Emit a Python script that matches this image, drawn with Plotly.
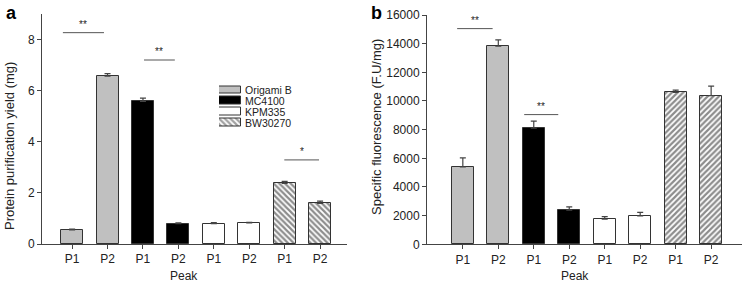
import plotly.graph_objects as go

peaks = ["P1", "P2", "P1", "P2", "P1", "P2", "P1", "P2"]
strains = ["Origami B", "MC4100", "KPM335", "BW30270"]

yield_vals = [0.55, 6.57, 5.58, 0.80, 0.80, 0.83, 2.37, 1.59]
yield_err = [0.03, 0.10, 0.13, 0.03, 0.04, 0.02, 0.08, 0.09]

fluor_vals = [5400, 13820, 8100, 2380, 1760, 1980, 10600, 10380]
fluor_err = [630, 440, 490, 230, 170, 250, 160, 660]

fill_colors = ["#c0c0c0", "#000000", "#ffffff", "#ffffff"]
patterns_a = ["", "", "", "\\"]
patterns_b = ["", "", "", "/"]

TXT = "#222222"
FONT = "Liberation Sans, Arial"

W, H = 748, 285


def px(X):
    return X / W


def py(Y):
    return (H - Y) / H


fig = go.Figure()

for i, s in enumerate(strains):
    xs = [2 * i, 2 * i + 1]
    for panel in ("a", "b"):
        vals = yield_vals if panel == "a" else fluor_vals
        errs = yield_err if panel == "a" else fluor_err
        pat = patterns_a[i] if panel == "a" else patterns_b[i]
        fig.add_trace(go.Bar(
            x=xs, y=vals[2 * i:2 * i + 2],
            width=0.62,
            name=s,
            showlegend=False,
            marker=dict(color=fill_colors[i],
                        line=dict(color="#333333", width=1),
                        pattern=dict(shape=pat, fgcolor="#1a1a1a", bgcolor="#ffffff",
                                     size=4, solidity=0.55) if pat else None),
            error_y=dict(type="data", array=errs[2 * i:2 * i + 2], arrayminus=[0, 0],
                         symmetric=False, color="#444444", thickness=1.2, width=3),
            xaxis="x" if panel == "a" else "x2",
            yaxis="y" if panel == "a" else "y2",
        ))

# compact legend drawn as a small horizontal bar chart of swatches
legend_rows = list(range(len(strains)))
fig.add_trace(go.Bar(
    x=[1] * len(strains), y=legend_rows, orientation="h", width=0.72,
    showlegend=False, hoverinfo="skip",
    marker=dict(color=fill_colors, line=dict(color="#333333", width=1),
                pattern=dict(shape=patterns_a, fgcolor="#1a1a1a", bgcolor="#ffffff",
                             size=4, solidity=0.55)),
    xaxis="x3", yaxis="y3",
))

axis_common = dict(showline=True, linecolor="#444444", linewidth=1, ticks="outside",
                   tickcolor="#444444", ticklen=4, showgrid=False, zeroline=False,
                   automargin=False,
                   tickfont=dict(family=FONT, size=12, color=TXT))

hidden = dict(visible=False, showgrid=False, zeroline=False, automargin=False)

fig.update_layout(
    width=W, height=H,
    margin=dict(l=0, r=0, t=0, b=0, autoexpand=False),
    paper_bgcolor="white", plot_bgcolor="white",
    bargap=0,
    showlegend=False,
    xaxis=dict(domain=[px(42), px(347)], range=[-0.85, 7.76],
               tickmode="array", tickvals=list(range(8)), ticktext=peaks, **axis_common),
    yaxis=dict(domain=[py(244), py(14)], range=[0, 9],
               tickmode="array", tickvals=[0, 2, 4, 6, 8], **axis_common),
    xaxis2=dict(domain=[px(427), px(742)], range=[-1.01, 7.87], anchor="y2",
                tickmode="array", tickvals=list(range(8)), ticktext=peaks, **axis_common),
    yaxis2=dict(domain=[py(244.3), py(15)], range=[0, 16000], anchor="x2",
                tickmode="array", tickvals=list(range(0, 16001, 2000)), tickformat="d",
                **axis_common),
    xaxis3=dict(domain=[px(219), px(241)], range=[0, 1], anchor="y3", **hidden),
    yaxis3=dict(domain=[py(128.2), py(84.5)], range=[3.5, -0.5], anchor="x3", **hidden),
    font=dict(family=FONT, size=12, color=TXT),
)

# legend labels
for i, s in enumerate(strains):
    fig.add_annotation(x=1, y=i, xref="x3", yref="y3", text=s, showarrow=False,
                       xanchor="left", yanchor="middle", xshift=2,
                       font=dict(size=10.5, color=TXT))

# significance markers
sig_a = [(-0.26, 0.9, 8.27, "**"), (2.03, 2.9, 7.2, "**"), (5.99, 6.97, 3.29, "*")]
sig_b = [(-0.16, 0.84, 15050, "**"), (1.73, 2.69, 9050, "**")]
for axes, sigs in (("", sig_a), ("2", sig_b)):
    for (x0, x1, y, t) in sigs:
        fig.add_shape(type="line", x0=x0, x1=x1, y0=y, y1=y, xref="x" + axes, yref="y" + axes,
                      line=dict(color="#555555", width=1))
        fig.add_annotation(x=(x0 + x1) / 2, y=y, xref="x" + axes, yref="y" + axes, text=t,
                           showarrow=False, xanchor="center", yanchor="bottom", yshift=1,
                           font=dict(size=10, color=TXT))

# axis titles and panel labels
texts = [
    (9, 146, "Protein purification yield (mg)", -90, 13, TXT),
    (376, 127, "Specific fluorescence (F.U/mg)", -90, 13, TXT),
    (184, 276, "Peak", 0, 12, TXT),
    (575, 276, "Peak", 0, 12, TXT),
    (11, 13, "<b>a</b>", 0, 18, "#000000"),
    (376, 13, "<b>b</b>", 0, 18, "#000000"),
]
for (X, Y, t, ang, sz, col) in texts:
    fig.add_annotation(x=px(X), y=py(Y), xref="paper", yref="paper", text=t,
                       textangle=ang, showarrow=False, xanchor="center", yanchor="middle",
                       font=dict(size=sz, color=col))

fig.write_html("out.html", config={"displayModeBar": False},
               post_script="document.body.style.margin='0';document.body.style.overflow='hidden';")
